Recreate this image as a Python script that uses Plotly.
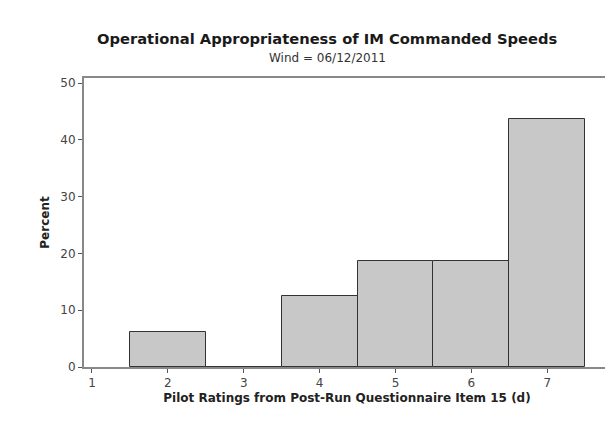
import plotly.graph_objects as go

ratings = [2, 3, 4, 5, 6, 7]
percent = [6.25, 0, 12.5, 18.75, 18.75, 43.75]
x_ticks = [1, 2, 3, 4, 5, 6, 7]
y_ticks = [0, 10, 20, 30, 40, 50]

title = "Operational Appropriateness of IM Commanded Speeds"
subtitle = "Wind = 06/12/2011"
x_title = "Pilot Ratings from Post-Run Questionnaire Item 15 (d)"
y_title = "Percent"

font = "DejaVu Sans"

fig = go.Figure()
fig.add_trace(go.Bar(
    x=ratings, y=percent, width=1,
    marker=dict(color="#c8c8c8", line=dict(color="#333333", width=1)),
    showlegend=False,
))

fig.update_layout(
    width=605, height=421,
    margin=dict(l=76, r=1, t=70, b=62),
    paper_bgcolor="white", plot_bgcolor="white",
    font=dict(family=font, size=12, color="#444444"),
    bargap=0,
    annotations=[
        dict(text="<b>" + title + "</b>", xref="paper", yref="paper",
             x=0.462, y=1.138, xanchor="center", yanchor="middle",
             showarrow=False, font=dict(family=font, size=14.7, color="#1a1a1a")),
        dict(text=subtitle, xref="paper", yref="paper",
             x=0.462, y=1.069, xanchor="center", yanchor="middle",
             showarrow=False, font=dict(family=font, size=12, color="#333333")),
    ],
)
fig.update_xaxes(
    range=[0.895, 7.827], tickvals=x_ticks, ticks="outside", ticklen=4,
    tickcolor="#555555", showline=True, linecolor="#888888", linewidth=2,
    mirror=True, showgrid=False, zeroline=False,
    title=dict(text="<b>" + x_title + "</b>", font=dict(size=12, color="#222222"), standoff=4),
)
fig.update_yaxes(
    range=[0, 50.9], tickvals=y_ticks, ticks="outside", ticklen=4,
    tickcolor="#555555", showline=True, linecolor="#888888", linewidth=2,
    mirror=True, showgrid=False, zeroline=False,
    title=dict(text="<b>" + y_title + "</b>", font=dict(size=12, color="#222222"), standoff=8),
)

fig.write_html("out.html")
